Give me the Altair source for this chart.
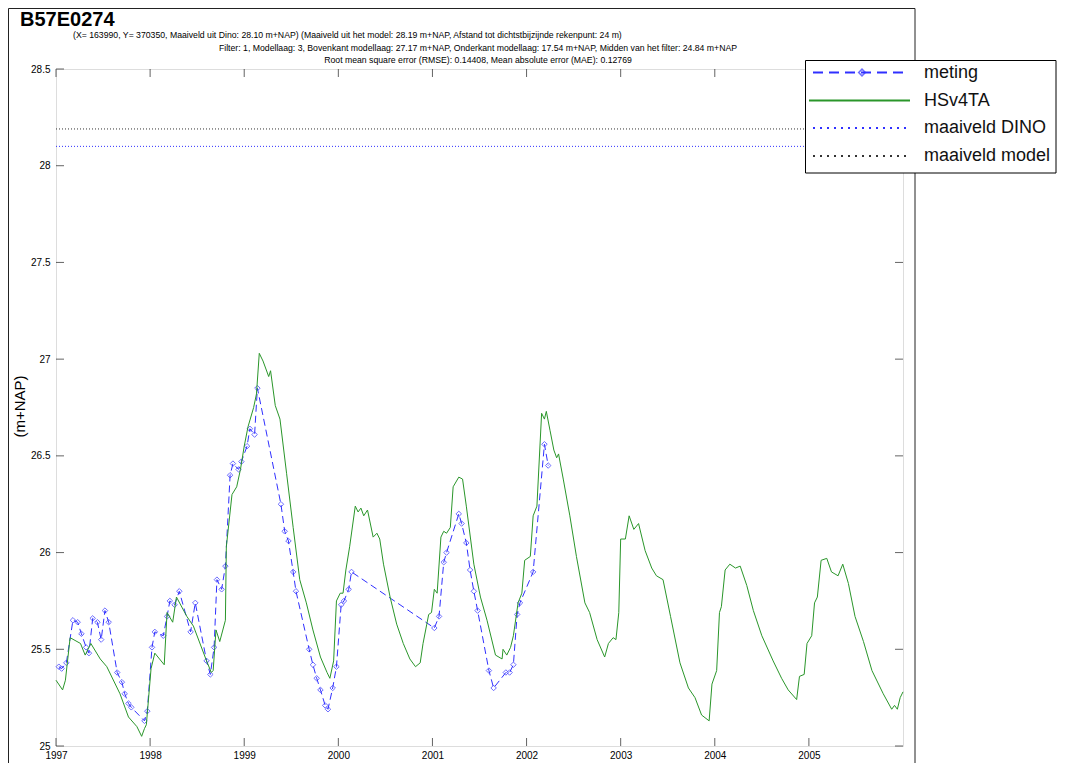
import altair as alt
import pandas as pd

# ---------------- data ----------------
title_text = "B57E0274"
subtitle_lines = [
    "(X= 163990, Y= 370350, Maaiveld uit Dino: 28.10 m+NAP) (Maaiveld uit het model: 28.19 m+NAP, Afstand tot dichtstbijzijnde rekenpunt: 24 m)",
    "Filter: 1, Modellaag: 3, Bovenkant modellaag: 27.17 m+NAP, Onderkant modellaag: 17.54 m+NAP, Midden van het filter: 24.84 m+NAP",
    "Root mean square error (RMSE): 0.14408, Mean absolute error (MAE): 0.12769",
]
y_title = "(m+NAP)"
series_names = ["meting", "HSv4TA", "maaiveld DINO", "maaiveld model"]
x_ticks = [1997, 1998, 1999, 2000, 2001, 2002, 2003, 2004, 2005]
y_ticks = [25, 25.5, 26, 26.5, 27, 27.5, 28, 28.5]
maaiveld_dino = [28.10]
maaiveld_model = [28.19]

# HSv4TA model series (decimal year, m+NAP)
model_t = [1997.00, 1997.07, 1997.10, 1997.15, 1997.26, 1997.31, 1997.37, 1997.47, 1997.54, 1997.68,
           1997.77, 1997.86, 1997.91, 1997.94, 1997.96, 1998.01, 1998.05, 1998.15, 1998.18, 1998.24,
           1998.28, 1998.39, 1998.46, 1998.60, 1998.65, 1998.67, 1998.70, 1998.74, 1998.80, 1998.81,
           1998.87, 1998.92, 1998.96, 1999.00, 1999.04, 1999.10, 1999.13, 1999.16, 1999.20, 1999.26,
           1999.28, 1999.33, 1999.38, 1999.45, 1999.52, 1999.59, 1999.66, 1999.73, 1999.81, 1999.88,
           1999.91, 1999.95, 1999.98, 2000.02, 2000.05, 2000.08, 2000.12, 2000.18, 2000.21, 2000.24,
           2000.27, 2000.31, 2000.37, 2000.41, 2000.44, 2000.48, 2000.55, 2000.62, 2000.69, 2000.76,
           2000.82, 2000.87, 2000.90, 2000.94, 2000.96, 2000.99, 2001.02, 2001.05, 2001.09, 2001.12,
           2001.15, 2001.19, 2001.22, 2001.28, 2001.32, 2001.36, 2001.44, 2001.51, 2001.58, 2001.67,
           2001.74, 2001.75, 2001.79, 2001.83, 2001.86, 2001.91, 2001.95, 2001.98, 2002.04, 2002.07,
           2002.11, 2002.16, 2002.19, 2002.21, 2002.25, 2002.29, 2002.32, 2002.34, 2002.39, 2002.46,
           2002.53, 2002.62, 2002.67, 2002.75, 2002.83, 2002.87, 2002.92, 2002.95, 2002.98, 2003.00,
           2003.05, 2003.09, 2003.14, 2003.19, 2003.26, 2003.33, 2003.38, 2003.45, 2003.53, 2003.63,
           2003.72, 2003.79, 2003.86, 2003.94, 2003.97, 2004.02, 2004.05, 2004.07, 2004.11, 2004.16,
           2004.22, 2004.27, 2004.34, 2004.41, 2004.50, 2004.62, 2004.71, 2004.78, 2004.87, 2004.90,
           2004.95, 2004.98, 2005.03, 2005.06, 2005.09, 2005.13, 2005.19, 2005.24, 2005.31, 2005.36,
           2005.42, 2005.49, 2005.58, 2005.67, 2005.79, 2005.88, 2005.91, 2005.94, 2005.97, 2006.00]
model_v = [25.34, 25.29, 25.34, 25.56, 25.53, 25.47, 25.53, 25.45, 25.41, 25.27,
           25.15, 25.10, 25.05, 25.09, 25.11, 25.40, 25.48, 25.42, 25.69, 25.64,
           25.77, 25.67, 25.62, 25.44, 25.38, 25.39, 25.60, 25.54, 25.65, 26.03,
           26.30, 26.34, 26.43, 26.55, 26.65, 26.75, 26.82, 27.03, 26.99, 26.91,
           26.94, 26.76, 26.69, 26.41, 26.13, 25.86, 25.74, 25.60, 25.46, 25.38,
           25.35, 25.44, 25.75, 25.79, 25.79, 25.91, 26.03, 26.24, 26.21, 26.23,
           26.19, 26.22, 26.08, 26.10, 26.07, 25.94, 25.77, 25.63, 25.53, 25.45,
           25.41, 25.43, 25.53, 25.63, 25.68, 25.69, 25.81, 25.79, 26.08, 26.11,
           26.10, 26.13, 26.34, 26.39, 26.38, 26.24, 25.94, 25.77, 25.65, 25.47,
           25.45, 25.50, 25.47, 25.51, 25.57, 25.74, 25.79, 25.96, 25.98, 26.19,
           26.24, 26.72, 26.69, 26.73, 26.63, 26.53, 26.49, 26.51, 26.38, 26.19,
           25.98, 25.74, 25.69, 25.55, 25.46, 25.53, 25.56, 25.55, 25.69, 26.07,
           26.07, 26.19, 26.12, 26.15, 26.01, 25.92, 25.88, 25.86, 25.67, 25.43,
           25.30, 25.25, 25.16, 25.13, 25.32, 25.39, 25.69, 25.72, 25.91, 25.94,
           25.92, 25.93, 25.83, 25.70, 25.57, 25.44, 25.35, 25.29, 25.24, 25.36,
           25.37, 25.53, 25.57, 25.74, 25.77, 25.96, 25.97, 25.90, 25.88, 25.94,
           25.84, 25.67, 25.54, 25.39, 25.27, 25.19, 25.21, 25.19, 25.25, 25.28]

# measured heads (decimal year, m+NAP)
meting_t = [1997.03, 1997.06, 1997.11, 1997.18, 1997.23, 1997.27, 1997.32, 1997.35, 1997.39, 1997.44,
            1997.48, 1997.52, 1997.56, 1997.65, 1997.70, 1997.73, 1997.77, 1997.80, 1997.94, 1997.97,
            1998.02, 1998.05, 1998.14, 1998.18, 1998.21, 1998.26, 1998.31, 1998.43, 1998.48, 1998.60,
            1998.64, 1998.68, 1998.71, 1998.76, 1998.80, 1998.85, 1998.88, 1998.94, 1998.97, 1999.03,
            1999.06, 1999.11, 1999.14, 1999.39, 1999.43, 1999.47, 1999.52, 1999.55, 1999.69, 1999.73,
            1999.77, 1999.81, 1999.86, 1999.89, 1999.94, 1999.98, 2000.03, 2000.06, 2000.11, 2000.14,
            2001.02, 2001.07, 2001.12, 2001.15, 2001.28, 2001.31, 2001.36, 2001.40, 2001.44, 2001.48,
            2001.60, 2001.65, 2001.78, 2001.82, 2001.86, 2001.90, 2001.93, 2002.07, 2002.19, 2002.23]
meting_v = [25.41, 25.40, 25.43, 25.65, 25.64, 25.58, 25.51, 25.48, 25.66, 25.64,
            25.55, 25.70, 25.64, 25.38, 25.33, 25.27, 25.22, 25.20, 25.13, 25.18,
            25.51, 25.59, 25.57, 25.67, 25.75, 25.73, 25.80, 25.59, 25.74, 25.44,
            25.37, 25.51, 25.86, 25.81, 25.93, 26.40, 26.46, 26.43, 26.47, 26.55,
            26.64, 26.61, 26.85, 26.25, 26.11, 26.06, 25.90, 25.80, 25.50, 25.42,
            25.35, 25.29, 25.21, 25.19, 25.30, 25.41, 25.73, 25.75, 25.81, 25.90,
            25.61, 25.67, 25.95, 26.00, 26.20, 26.15, 26.05, 25.91, 25.80, 25.70,
            25.39, 25.30, 25.38, 25.38, 25.42, 25.68, 25.74, 25.90, 26.56, 26.45]

# ---------------- layout ----------------
W, H = 847, 677
FONT = "Liberation Sans"
BLUE = "#3030ff"
GREEN = "#2a962a"
GREY = "#333333"

df_model = pd.DataFrame({"t": model_t, "v": model_v})
df_meting = pd.DataFrame({"t": meting_t, "v": meting_v})
df_dino = pd.DataFrame({"v": maaiveld_dino})
df_mm = pd.DataFrame({"v": maaiveld_model})
df_xt = pd.DataFrame({"t": x_ticks})
df_yt = pd.DataFrame({"v": y_ticks})

xscale = alt.Scale(domain=[1997, 2006], nice=False, zero=False)
yscale = alt.Scale(domain=[25, 28.5], nice=False, zero=False)


def X():
    return alt.X("t:Q", scale=xscale,
                 axis=alt.Axis(values=x_ticks, format="d", title=None, labelFlush=False,
                               labelOverlap=False, labelPadding=4, grid=False, ticks=False,
                               tickSize=0, domain=False))


def Y():
    return alt.Y("v:Q", scale=yscale,
                 axis=alt.Axis(values=y_ticks, format="~g", title=y_title, labelFlush=False,
                               labelOverlap=False, labelPadding=6, grid=False, ticks=False,
                               tickSize=0, domain=False, titleFontSize=15,
                               titleFontWeight="normal", titleAngle=270, titleX=-37, titleY=337,
                               titleAlign="center", titleBaseline="middle", titleFont=FONT,
                               titleColor="black"))


def txt(s):
    return alt.Chart(pd.DataFrame({"s": [s]}))


# outer figure frame
frame = txt("frame").mark_rect(fill=None, stroke="#222222", strokeWidth=1).encode(
    x=alt.value(-47.5), x2=alt.value(859), y=alt.value(-60.5), y2=alt.value(720))

# data layers
meting_line = alt.Chart(df_meting).mark_line(color=BLUE, strokeWidth=1, strokeDash=[7, 4]).encode(x=X(), y=Y())
meting_pts = alt.Chart(df_meting).mark_point(shape="diamond", size=30, filled=False, color=BLUE,
                                            strokeWidth=1).encode(x=X(), y=Y())
model_line = alt.Chart(df_model).mark_line(color=GREEN, strokeWidth=1).encode(x=X(), y=Y())
dino_rule = alt.Chart(df_dino).mark_rule(color=BLUE, strokeWidth=1, strokeDash=[1, 2]).encode(y=Y())
mm_rule = alt.Chart(df_mm).mark_rule(color=GREY, strokeWidth=1, strokeDash=[1, 2]).encode(y=Y())

# inward ticks on all four sides
tick_style = dict(color="#222222", thickness=1, size=8)
yt_left = alt.Chart(df_yt).mark_tick(**tick_style).encode(y=Y(), x=alt.value(4))
yt_right = alt.Chart(df_yt).mark_tick(**tick_style).encode(y=Y(), x=alt.value(W - 4))
xt_bottom = alt.Chart(df_xt).mark_tick(**tick_style).encode(x=X(), y=alt.value(H - 4))
xt_top = alt.Chart(df_xt).mark_tick(**tick_style).encode(x=X(), y=alt.value(4))

# titles
title = txt(title_text).mark_text(font=FONT, fontSize=20, fontWeight="bold", align="left",
                                  baseline="alphabetic", color="black").encode(
    text="s:N", x=alt.value(-36), y=alt.value(-43))
sub1 = txt(subtitle_lines[0]).mark_text(font=FONT, fontSize=8.7, align="left", baseline="middle",
                                        color="black").encode(text="s:N", x=alt.value(17), y=alt.value(-34))
sub2 = txt(subtitle_lines[1]).mark_text(font=FONT, fontSize=8.7, align="center", baseline="middle",
                                        color="black").encode(text="s:N", x=alt.value(422), y=alt.value(-21))
sub3 = txt(subtitle_lines[2]).mark_text(font=FONT, fontSize=8.7, align="center", baseline="middle",
                                        color="black").encode(text="s:N", x=alt.value(422), y=alt.value(-9))

# legend (drawn on top)
LX0, LX1, LT = 757, 852, 868
rows = [3.5, 31.5, 59, 87]
leg_box = txt("legend").mark_rect(fill="white", stroke="black", strokeWidth=1).encode(
    x=alt.value(749.5), x2=alt.value(1000), y=alt.value(-8.5), y2=alt.value(104))
leg_meting = txt(series_names[0]).mark_rule(color=BLUE, strokeWidth=2, strokeDash=[10, 6]).encode(
    x=alt.value(LX0), x2=alt.value(LX1), y=alt.value(rows[0]))
leg_meting_pt = txt(series_names[0]).mark_point(shape="diamond", size=45, filled=False, color=BLUE,
                                                strokeWidth=1.5).encode(x=alt.value(806), y=alt.value(rows[0]))
leg_model = txt(series_names[1]).mark_rule(color=GREEN, strokeWidth=2).encode(
    x=alt.value(LX0 - 4), x2=alt.value(LX1 + 2), y=alt.value(rows[1]))
leg_dino = txt(series_names[2]).mark_rule(color=BLUE, strokeWidth=2, strokeDash=[2, 5]).encode(
    x=alt.value(LX0), x2=alt.value(LX1), y=alt.value(rows[2]))
leg_mm = txt(series_names[3]).mark_rule(color=GREY, strokeWidth=2, strokeDash=[2, 5]).encode(
    x=alt.value(LX0), x2=alt.value(LX1), y=alt.value(rows[3]))
leg_texts = [
    txt(series_names[i]).mark_text(font=FONT, fontSize=18, align="left", baseline="middle",
                                   color="#111111").encode(text="s:N", x=alt.value(LT), y=alt.value(rows[i]))
    for i in range(4)
]

chart = alt.layer(
    frame, mm_rule, dino_rule, meting_line, meting_pts, model_line,
    yt_left, yt_right, xt_bottom, xt_top,
    title, sub1, sub2, sub3,
    leg_box, leg_meting, leg_meting_pt, leg_model, leg_dino, leg_mm, *leg_texts,
).properties(
    width=W, height=H,
    autosize=alt.AutoSizeParams(type="none"),
    padding={"left": 48, "top": 61, "right": 154, "bottom": 17},
).configure_view(
    stroke="#222222", strokeWidth=1
).configure_axis(
    domain=False, ticks=False, grid=False, labelFont=FONT, labelFontSize=8, labelColor="#111111"
).configure(background="white")

chart.save("out.html", embed_options={"renderer": "svg", "actions": False})
